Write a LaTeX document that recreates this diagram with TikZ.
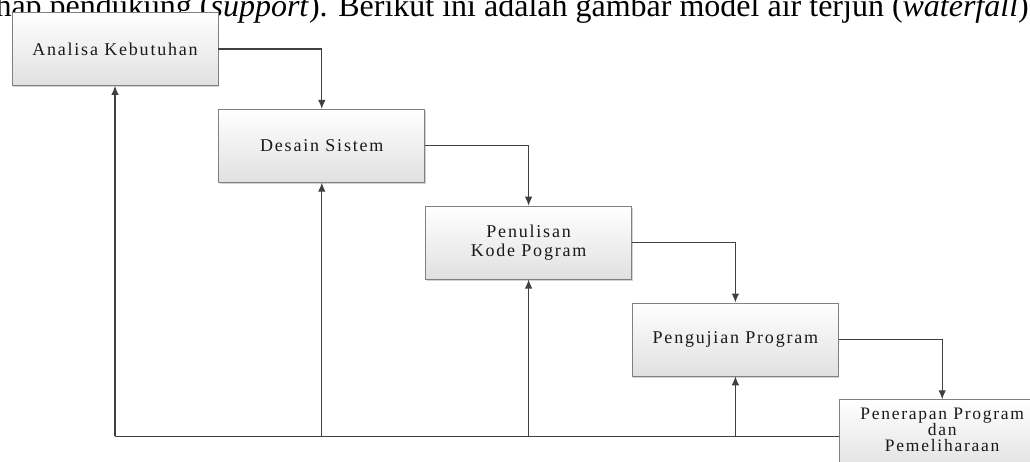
\documentclass[tikz,border=0pt]{standalone}
\usepackage{fontspec}
\setmainfont{Liberation Serif}
\newfontfamily\stagefont[LetterSpace=10]{Liberation Serif}
\usetikzlibrary{positioning, shadows, arrows.meta}

\tikzset{
  stagebox/.style={draw=black!50, line width=0.8pt, top color=white, bottom color=black!12,
    drop shadow={shadow xshift=1pt, shadow yshift=-2pt, opacity=0.35},
    minimum width=206pt, minimum height=73pt, inner sep=0pt, align=center,
    font=\stagefont\fontsize{18}{18.5}\selectfont, text=black!90},
  flow/.style={draw=black!75, line width=1.1pt, -{Latex[length=9pt,width=7.5pt]}},
}

\begin{document}
\begin{tikzpicture}[x=1pt, y=-1pt]
    \useasboundingbox (0,0) rectangle (1030,462);
    \clip (0,0) rectangle (1030,462);

    % Teks di atas gambar
    \node[anchor=base east, inner sep=0pt, font=\fontsize{32}{34}\selectfont] (caption) at (1029,17)
        {tahap pendukung (\textit{support}). Berikut ini adalah gambar model air terjun (\textit{waterfall})};

    % Tahapan waterfall
    \node[stagebox] (k1) at (115,49) {Analisa Kebutuhan};
    \node[stagebox, below right=23pt and 0pt of k1.south east] (k2) {Desain Sistem};
    \node[stagebox, below right=23pt and 0pt of k2.south east] (k3) {Penulisan\\Kode Pogram};
    \node[stagebox, below right=23pt and 0pt of k3.south east] (k4) {Pengujian Program};
    \node[stagebox, below right=23pt and 0pt of k4.south east,
          font=\stagefont\fontsize{17.5}{16}\selectfont] (k5) {Penerapan Program\\dan\\Pemeliharaan\\[-4pt]};

    % Alur ke bawah
    \foreach \i/\j in {1/2, 2/3, 3/4, 4/5} {
        \draw[flow] (k\i.east) -| (k\j.north);
    }

    % Alur balik
    \draw[draw=black!75, line width=1.1pt] (k5.west) -- (k5.west -| k1.south);
    \foreach \i in {1,...,4} {
        \draw[flow] (k5.west -| k\i.south) -- (k\i.south);
    }
\end{tikzpicture}
\end{document}
